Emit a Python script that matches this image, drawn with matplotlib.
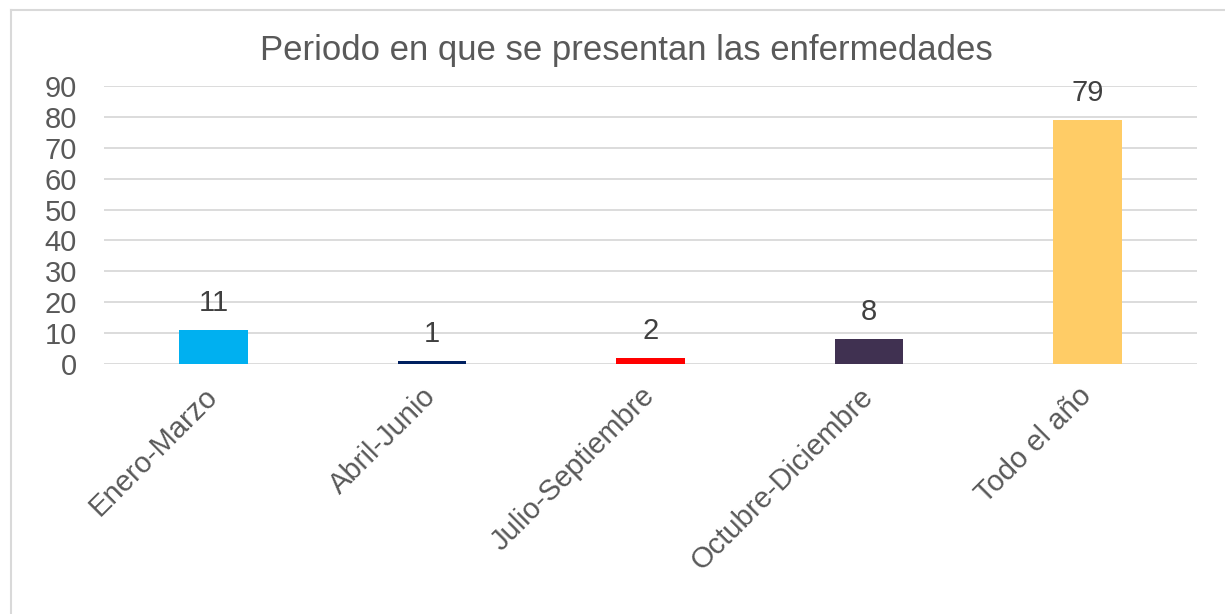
import matplotlib
matplotlib.use("Agg")
import matplotlib.pyplot as plt
from matplotlib.lines import Line2D

periodos = ["Enero-Marzo", "Abril-Junio", "Julio-Septiembre", "Octubre-Diciembre", "Todo el año"]
casos = [11, 1, 2, 8, 79]
colores = ["#00B0F0", "#002060", "#FF0000", "#403151", "#FFCC66"]
yticks = [0, 10, 20, 30, 40, 50, 60, 70, 80, 90]

plt.rcParams["font.family"] = ["Liberation Sans", "DejaVu Sans"]
fig = plt.figure(figsize=(12.25, 6.14), dpi=100)
ax = fig.add_axes([0.085, 0.407, 0.892, 0.453])

x = range(len(periodos))
bars = ax.bar(x, casos, width=0.315, color=colores, zorder=3)
for b, v in zip(bars, casos):
    ax.text(b.get_x() + b.get_width() / 2, v + 4.2, str(v), ha="center", va="bottom",
            fontsize=21, color="#404040")

ax.set_xlim(-0.5, len(periodos) - 0.5)
ax.set_ylim(0, 90)
ax.set_yticks(yticks)
ax.yaxis.grid(True, color="#D9D9D9", linewidth=1.3, zorder=0)
ax.set_xticks(list(x))
ax.set_xticklabels(periodos, rotation=45, ha="right", va="center", rotation_mode="anchor",
                   fontsize=21, color="#595959")
ax.tick_params(axis="y", labelsize=21, labelcolor="#595959", length=0, pad=19.5)
ax.tick_params(axis="x", length=0, pad=20)
for s in ax.spines.values():
    s.set_visible(False)

fig.text(0.511, 0.917, "Periodo en que se presentan las enfermedades", ha="center",
         va="center", fontsize=25, color="#595959")

# chart-area frame (left and top edges)
fig.add_artist(Line2D([11 / 1225, 11 / 1225], [0, 1 - 10 / 614], transform=fig.transFigure,
                      color="#D9D9D9", linewidth=1.5))
fig.add_artist(Line2D([11 / 1225, 1], [1 - 10 / 614, 1 - 10 / 614], transform=fig.transFigure,
                      color="#D9D9D9", linewidth=1.5))

fig.savefig("out.png", dpi=100, facecolor="white")
